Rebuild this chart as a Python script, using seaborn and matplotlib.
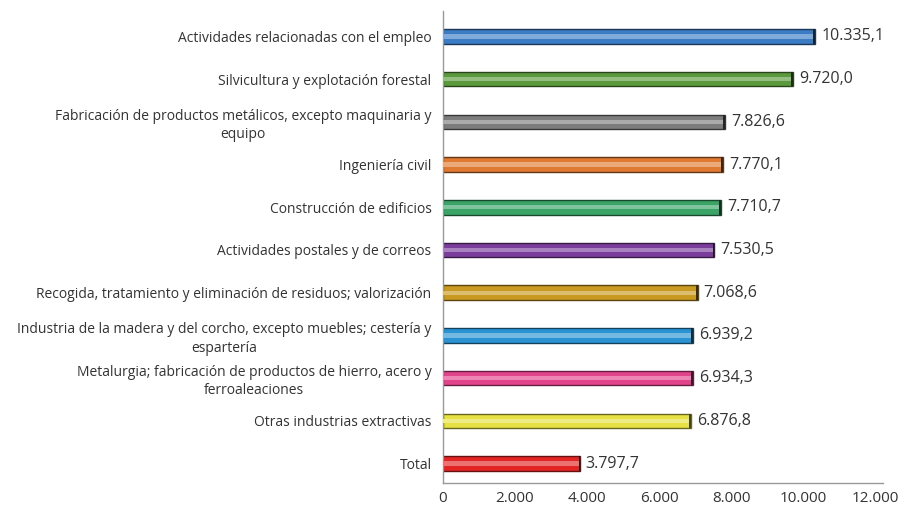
import pandas as pd
import numpy as np
import seaborn as sns
import matplotlib.pyplot as plt

categories = [
    "Actividades relacionadas con el empleo",
    "Silvicultura y explotación forestal",
    "Fabricación de productos metálicos, excepto maquinaria y\nequipo",
    "Ingeniería civil",
    "Construcción de edificios",
    "Actividades postales y de correos",
    "Recogida, tratamiento y eliminación de residuos; valorización",
    "Industria de la madera y del corcho, excepto muebles; cestería y\nespartería",
    "Metalurgia; fabricación de productos de hierro, acero y\nferroaleaciones",
    "Otras industrias extractivas",
    "Total",
]
values = [10335.1, 9720.0, 7826.6, 7770.1, 7710.7, 7530.5, 7068.6, 6939.2, 6934.3, 6876.8, 3797.7]
bar_colours = ["#3b7cc4", "#5b9a3c", "#7d7d7d", "#e07a32", "#3aa466", "#7b3d9c",
               "#c99a22", "#2a93d4", "#e2448c", "#e6e244", "#e22424"]
x_ticks = [0, 2000, 4000, 6000, 8000, 10000, 12000]

def fmt_es(v, dec=1):
    s = f"{v:,.{dec}f}"
    return s.replace(",", "X").replace(".", ",").replace("X", ".")

df = pd.DataFrame({"cat": categories, "value": values})

plt.rcParams['font.family'] = ['Open Sans', 'DejaVu Sans']
fig = plt.figure(figsize=(9.09, 5.12), dpi=100)
ax = fig.add_axes([0.487, 0.057, 0.484, 0.922])

sns.barplot(data=df, y="cat", x="value", hue="cat", palette=bar_colours,
            legend=False, width=0.34, orient="h", ax=ax, saturation=1)

# dark outline and highlight stripe to mimic the bevelled bars
for patch, col in zip(ax.patches, bar_colours):
    rgb = np.array(plt.matplotlib.colors.to_rgb(col))
    patch.set_edgecolor(tuple(rgb * 0.45))
    patch.set_linewidth(1.0)
    y0 = patch.get_y()
    h = patch.get_height()
    w = patch.get_width()
    light = tuple(np.clip(rgb + (1 - rgb) * 0.35, 0, 1))
    ax.barh(y0 + h * 0.5, w, height=h * 0.3, left=0, color=light, zorder=3)
    ax.barh(y0 + h * 0.5, w * 0.006, height=h, left=w - w * 0.006,
            color=tuple(rgb * 0.3), zorder=4)

for i, v in enumerate(values):
    ax.text(v + 170, i, fmt_es(v), va="center", ha="left", fontsize=11.5, color="#333333")

ax.set_xlim(0, 12200)
ax.set_ylim(10.45, -0.6)
ax.set_xticks(x_ticks)
ax.set_xticklabels([fmt_es(t, 0) for t in x_ticks], fontsize=11, color="#333333")
ax.tick_params(axis="x", length=0, pad=6)
ax.tick_params(axis="y", length=0, pad=8)
for lbl in ax.get_yticklabels():
    lbl.set_fontsize(10)
    lbl.set_color("#333333")
    lbl.set_multialignment("center")
    lbl.set_linespacing(1.3)
ax.set_xlabel("")
ax.set_ylabel("")
for s in ["top", "right"]:
    ax.spines[s].set_visible(False)
for s in ["left", "bottom"]:
    ax.spines[s].set_color("#999999")
    ax.spines[s].set_linewidth(1)

fig.savefig("out.png", dpi=100)
